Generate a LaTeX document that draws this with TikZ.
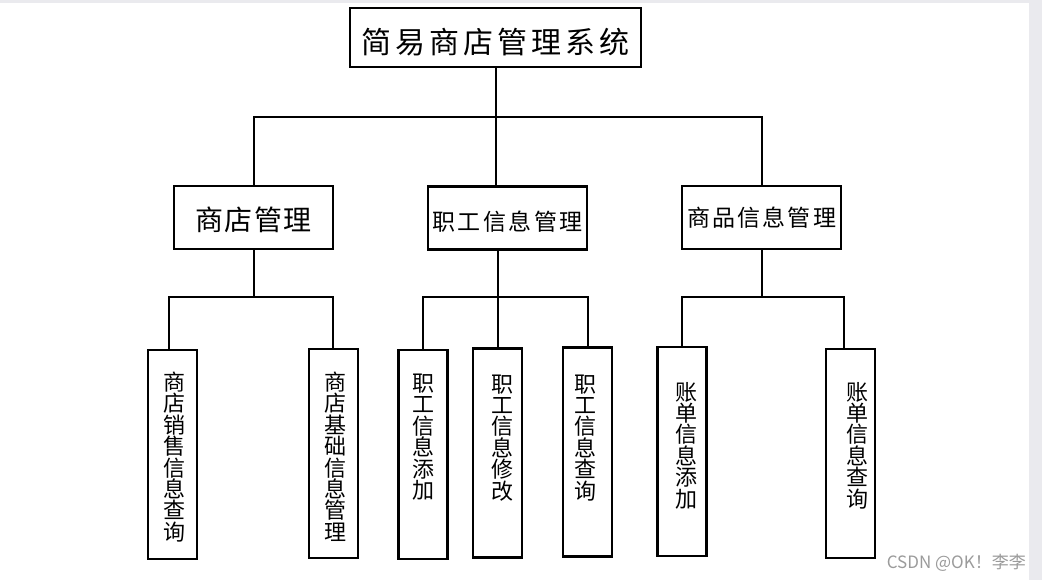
\documentclass[tikz,border=0pt]{standalone}
\usepackage{fontspec}
\setmainfont{Noto Sans CJK SC}
\definecolor{stripgray}{RGB}{234,234,238}
\definecolor{wmgray}{RGB}{155,155,155}
\makeatletter
\newcommand\spacedtxt[2]{\def\sp@gap{#1}\let\sp@first\relax\@tfor\sp@c:=#2\do{\ifx\sp@first\relax\let\sp@first\empty\else\hspace*{\sp@gap}\fi\sp@c}}
\makeatother
\newcommand\leafbox[4]{\parbox[c][#3][t]{49pt}{\fontsize{22pt}{21.4pt}\selectfont\lineskiplimit=-100pt\vspace*{#1}\centering\leftskip=#2 plus 1fil #4}}
\tikzset{
  box/.style={draw=black, line width=2.4pt, inner sep=0pt, fill=white},
  rootbox/.style={box, minimum width=291pt, minimum height=59pt},
  midbox/.style={box, minimum width=159pt, minimum height=63pt},
  leafnode/.style={box, minimum width=49pt, minimum height=209pt},
  conn/.style={draw=black, line width=2pt, line join=miter}
}
\begin{document}
\begin{tikzpicture}[x=1pt,y=-1pt]
\useasboundingbox (0,0) rectangle (1042,580);
\fill[stripgray] (0,0) rectangle (1042,580);
\fill[white] (0,3) rectangle (1029,580);

% root and middle level
\node[rootbox, text height=32.8pt, text depth=0pt] (root) at (495.5,37.5) {\fontsize{30pt}{30pt}\selectfont\spacedtxt{3.9pt}{简易商店管理系统}};
\node[midbox, text height=26.3pt, text depth=0pt] (m1) at (253.5,217.5) {\fontsize{28pt}{28pt}\selectfont\spacedtxt{1.6pt}{商店管理}};
\node[midbox, text height=25.5pt, text depth=0pt] (m2) at (507.5,218) {\fontsize{23pt}{23pt}\selectfont\spacedtxt{2.6pt}{职工信息管理}};
\node[midbox, text height=17.5pt, text depth=0pt] (m3) at (761.5,217.5) {\fontsize{23pt}{23pt}\selectfont\spacedtxt{2.2pt}{商品信息管理}};

% leaves
\node[leafnode] (l1) at (172.5,454.5) {\leafbox{22pt}{3pt}{209pt}{商\\店\\销\\售\\信\\息\\查\\询}};
\node[leafnode] (l2) at (333.5,453.5) {\leafbox{23pt}{3pt}{209pt}{商\\店\\基\\础\\信\\息\\管\\理}};
\node[leafnode] (l3) at (423,454.5) {\leafbox{24pt}{0pt}{209pt}{职\\工\\信\\息\\添\\加}};
\node[leafnode] (l4) at (497.5,453) {\leafbox{26pt}{9pt}{209pt}{职\\工\\信\\息\\修\\改}};
\node[leafnode] (l5) at (587.5,452) {\leafbox{27pt}{-4pt}{209pt}{职\\工\\信\\息\\查\\询}};
\node[leafnode] (l6) at (682,451.5) {\leafbox{35pt}{8pt}{209pt}{账\\单\\信\\息\\添\\加}};
\node[leafnode] (l7) at (850.5,453.5) {\leafbox{33pt}{13pt}{209pt}{账\\单\\信\\息\\查\\询}};

% connectors
\coordinate (bus0) at (496,117);
\coordinate (bus1) at (253,297);
\coordinate (bus2) at (497,297);
\coordinate (bus3) at (762,297);
\draw[conn] (root.south) -- (root.south |- m2.north);
\draw[conn] (m1.north) |- (bus0) -| (m3.north);
\draw[conn] (m1.south) -- (m1.south |- bus1);
\draw[conn] ([xshift=-3.5pt]l1.north) |- (bus1) -| ([xshift=-0.5pt]l2.north);
\draw[conn] (m2.south -| l4.north) -- (l4.north);
\draw[conn] (l3.north) |- (bus2) -| (l5.north);
\draw[conn] (m3.south) -- (m3.south |- bus3);
\draw[conn] (l6.north) |- (bus3) -| ([xshift=-6.5pt]l7.north);

% watermark
\node[anchor=base east, text=wmgray, inner sep=0pt, font=\fontsize{17pt}{17pt}\selectfont] (wm) at (1026,568) {CSDN @OK！李李};
\end{tikzpicture}
\end{document}
